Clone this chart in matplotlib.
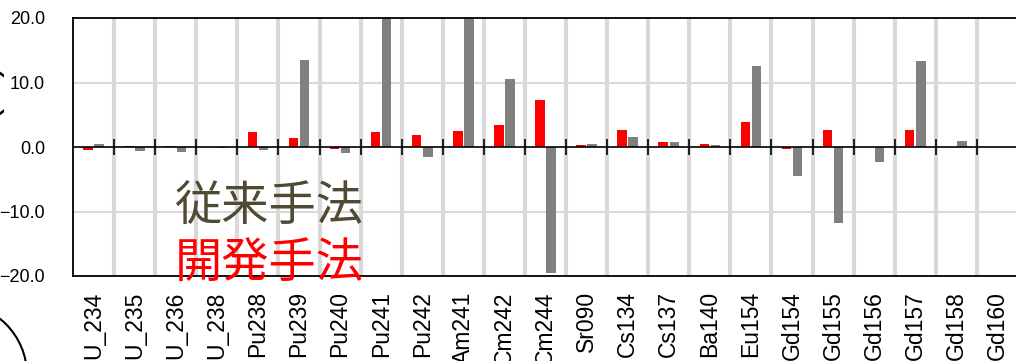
import matplotlib
matplotlib.use("Agg")
import numpy as np
from matplotlib import pyplot as plt
from matplotlib.patches import Circle

# nuclides along the x axis
nuclides = ["U_234", "U_235", "U_236", "U_238", "Pu238", "Pu239", "Pu240",
            "Pu241", "Pu242", "Am241", "Cm242", "Cm244", "Sr090", "Cs134",
            "Cs137", "Ba140", "Eu154", "Gd154", "Gd155", "Gd156", "Gd157",
            "Gd158", "Gd160"]

# deviation (%) for the developed method (red) and the conventional one (gray)
developed = [-0.5, 0.15, 0.1, 0.05, 2.3, 1.4, -0.25, 2.4, 1.9, 2.5, 3.35,
             7.3, 0.25, 2.6, 0.8, 0.45, 3.9, -0.35, 2.7, 0.05, 2.7, 0.05, 0.03]
conventional = [0.4, -0.55, -0.7, -0.1, -0.4, 13.55, -1.0, 24.0, -1.5, 30.0,
                10.5, -19.6, 0.45, 1.55, 0.75, 0.3, 12.55, -4.45, -11.8,
                -2.3, 13.3, 1.0, 0.03]

yticks = [-20, -10, 0, 10, 20]

RED = "#ff0000"
GRAY = "#808080"
OLIVE = "#4f4a33"
LIGHT = "#d9d9d9"

plt.rcParams["font.family"] = ["Liberation Sans", "DejaVu Sans"]

fig = plt.figure(figsize=(10.16, 3.61), dpi=100)
ax = fig.add_axes([73 / 1016, 85 / 361, 945 / 1016, 258 / 361])

x = np.arange(len(nuclides))
width = 0.23
ax.bar(x - 0.135, developed, width, color=RED, zorder=3)
ax.bar(x + 0.135, conventional, width, color=GRAY, zorder=3)

# category separators and the zero line with its small ticks
seps = x[:-1] + 0.5
ax.vlines(seps, -20, 20, color=LIGHT, lw=3, zorder=1)
for yv in (-10, 10):
    ax.axhline(yv, color=LIGHT, lw=1.5, zorder=1)
ax.axhline(0, color="black", lw=1.2, zorder=4)
ax.vlines(seps, -1.25, 1.25, color="black", lw=1.2, zorder=4)

ax.set_xlim(-0.5, len(nuclides) - 0.5)
ax.set_ylim(-20, 20)
ax.set_yticks(yticks)
ax.set_yticklabels([f"{v:.1f}".replace("-", "\u2212") for v in yticks])
ax.set_xticks(x)
ax.set_xticklabels(nuclides, rotation=90, va="top", ha="center")
ax.tick_params(axis="y", length=0, pad=20, labelsize=13)
ax.tick_params(axis="x", length=0, pad=11, labelsize=16.5)
for side in ("left", "top", "bottom", "right"):
    ax.spines[side].set_linewidth(1.3)
    ax.spines[side].set_zorder(5)

jp = ["Noto Sans CJK JP", "DejaVu Sans"]
fig.text(175 / 1016, 1 - 207 / 361, "従来手法", family=jp, fontsize=34,
         color=OLIVE, ha="left", va="center")
fig.text(175 / 1016, 1 - 265 / 361, "開発手法", family=jp, fontsize=34,
         color=RED, ha="left", va="center")

# axis caption and marker sitting mostly off the left edge
fig.text(3 / 1016, 1 - 90 / 361, "(%)", fontsize=26, rotation=90,
         ha="right", va="center")
fig.add_artist(Circle((-0.45, -0.14), 0.72, transform=fig.dpi_scale_trans,
                      fill=False, edgecolor="black", lw=1.5))

fig.savefig("out.png", dpi=100)
